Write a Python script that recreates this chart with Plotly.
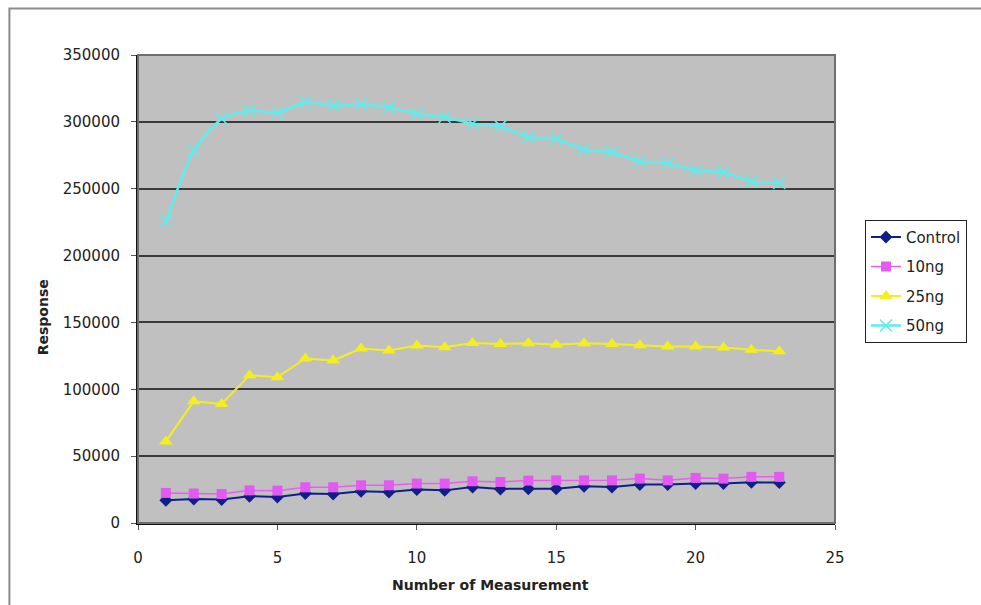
import plotly.graph_objects as go

# Measurement index (1..23)
measurement = list(range(1, 24))

control = [17000, 18000, 17500, 20000, 19500, 22000, 21700, 23700, 23200, 25000,
           24400, 27000, 25500, 25700, 25700, 27400, 27000, 28700, 28700, 29500,
           29500, 30400, 30200]
ng10 = [22500, 22000, 21700, 24400, 24200, 26700, 26700, 28200, 28200, 29500,
        29500, 31200, 30700, 31700, 31900, 31900, 31900, 33200, 31900, 33700,
        33200, 34500, 34500]
ng25 = [61000, 91000, 89000, 110500, 109000, 123000, 121500, 130500, 129000, 132800,
        131500, 134600, 133800, 134500, 133300, 134500, 133800, 133000, 132000, 132000,
        131300, 129500, 128500]
ng50 = [225300, 278600, 302300, 308500, 306800, 314800, 312300, 313000, 311000, 306000,
        303600, 298600, 296800, 288600, 287300, 279100, 277400, 270300, 269300, 263600,
        262400, 255300, 254300]

series_names = ["Control", "10ng", "25ng", "50ng"]
x_ticks = [0, 5, 10, 15, 20, 25]
y_ticks = [0, 50000, 100000, 150000, 200000, 250000, 300000, 350000]

FONT = "DejaVu Sans"

fig = go.Figure()

fig.add_trace(go.Scatter(
    x=measurement, y=control, name=series_names[0], mode="lines+markers",
    legendgroup="a",
    line=dict(color="#101F88", width=2),
    marker=dict(symbol="diamond", size=10, color="#101F88"),
))
fig.add_trace(go.Scatter(
    x=measurement, y=ng10, name=series_names[1], mode="lines+markers",
    legendgroup="b",
    line=dict(color="#EA5CF2", width=1.5),
    marker=dict(symbol="square", size=10, color="#E25AF2"),
))
fig.add_trace(go.Scatter(
    x=measurement, y=ng25, name=series_names[2], mode="lines+markers",
    legendgroup="c",
    line=dict(color="#F4EE1E", width=2),
    marker=dict(symbol="triangle-up", size=12, color="#F4EE1E"),
))
fig.add_trace(go.Scatter(
    x=measurement, y=ng50, name=series_names[3], mode="lines+markers",
    legendgroup="d",
    line=dict(color="#5CEEEE", width=2.5, shape="spline", smoothing=0.6),
    marker=dict(symbol="x-thin", size=12, color="#5CEEEE",
                line=dict(color="#5CEEEE", width=1.5)),
))

fig.update_layout(
    width=981, height=605,
    margin=dict(l=138, r=146, t=55, b=82),
    paper_bgcolor="white",
    plot_bgcolor="#C0C0C0",
    font=dict(family=FONT, size=15, color="#222222"),
    showlegend=True,
    legend=dict(
        x=1.043, y=0.648, xanchor="left", yanchor="top",
        bgcolor="white", bordercolor="#222222", borderwidth=1,
        font=dict(family=FONT, size=15, color="#222222"),
        tracegroupgap=7,
        itemwidth=30,
    ),
    xaxis=dict(
        range=[0, 25], tickvals=x_ticks, tickformat="d",
        showgrid=False, zeroline=False,
        showline=True, linecolor="#111111", linewidth=2,
        ticks="outside", ticklen=5, tickcolor="#555555", tickwidth=1,
        ticklabelstandoff=15,
        tickfont=dict(family=FONT, size=15, color="#222222"),
    ),
    yaxis=dict(
        range=[0, 350000], tickvals=y_ticks, tickformat="d",
        showgrid=True, gridcolor="#3A3A3A", gridwidth=1.5, zeroline=False,
        showline=True, linecolor="#111111", linewidth=2,
        ticks="outside", ticklen=5, tickcolor="#555555", tickwidth=1,
        ticklabelstandoff=8,
        tickfont=dict(family=FONT, size=15, color="#222222"),
    ),
    shapes=[
        # plot frame (top and right edges)
        dict(type="rect", xref="paper", yref="paper", x0=0, x1=1, y0=0, y1=1,
             line=dict(color="#6E6E6E", width=2), layer="above"),
        # chart outer border
        dict(type="rect", xref="paper", yref="paper",
             x0=-0.1845, x1=1.22, y0=-0.19, y1=1.0995,
             line=dict(color="#8A8A8A", width=2)),
    ],
    annotations=[
        dict(text="<b>Response</b>", xref="paper", yref="paper",
             x=-0.136, y=0.44, xanchor="center", yanchor="middle",
             textangle=-90, showarrow=False,
             font=dict(family=FONT, size=14, color="#222222")),
        dict(text="<b>Number of Measurement</b>", xref="paper", yref="paper",
             x=0.506, y=-0.1325, xanchor="center", yanchor="middle",
             showarrow=False,
             font=dict(family=FONT, size=14, color="#222222")),
    ],
)

fig.write_html("out.html")
